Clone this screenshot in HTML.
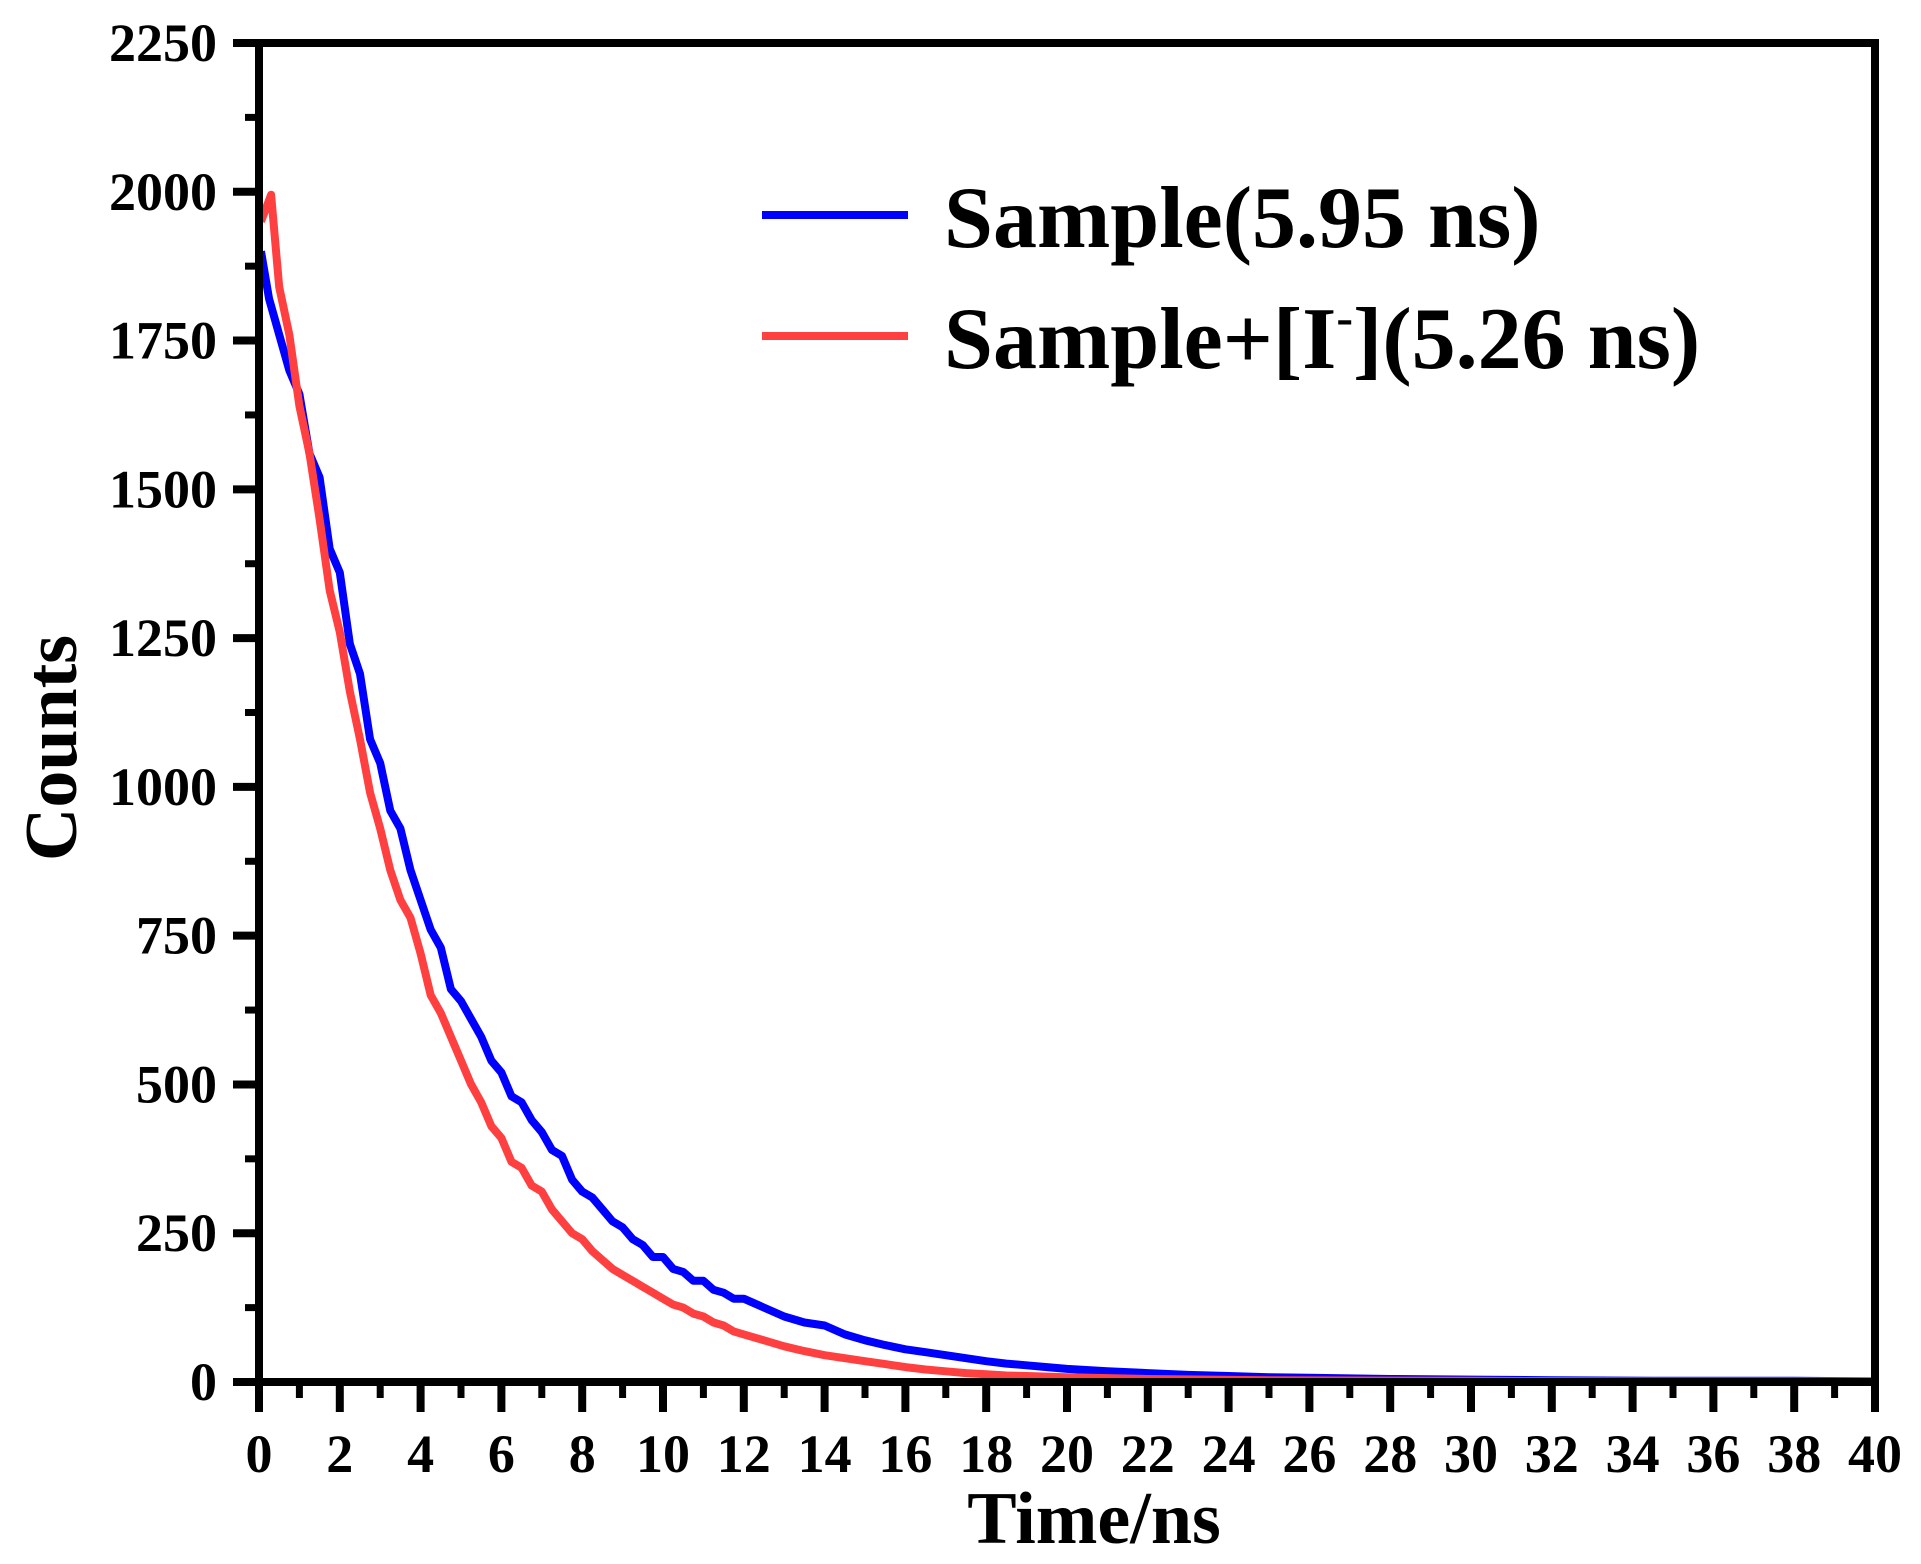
<!DOCTYPE html>
<html><head><meta charset="utf-8"><style>
html,body{margin:0;padding:0;background:#fff;}
svg{display:block;font-family:"Liberation Serif",serif;font-weight:bold;}
</style></head><body>
<svg id="chart" width="1921" height="1564" viewBox="0 0 1921 1564">
<g id="marks"></g>
<g id="axes"></g>
<g>
  <line x1="762" y1="215" x2="908" y2="215" stroke="#0000ff" stroke-width="8"/>
  <text x="944" y="247" font-size="88">Sample(5.95 ns)</text>
  <line x1="762" y1="336" x2="908" y2="336" stroke="#ff4040" stroke-width="8"/>
  <text x="944" y="368" font-size="88">Sample+[I<tspan dy="-34" font-size="50">-</tspan><tspan dy="34">](5.26 ns)</tspan></text>
</g>
<text x="1094" y="1543" font-size="74" text-anchor="middle">Time/ns</text>
<text transform="translate(76,748) rotate(-90)" font-size="74" text-anchor="middle">Counts</text>
</svg>
<script>
const xTicks = [0,2,4,6,8,10,12,14,16,18,20,22,24,26,28,30,32,34,36,38,40];
const yTicks = [0,250,500,750,1000,1250,1500,1750,2000,2250];
const blueT = [0.05,0.25,0.5,0.75,1,1.25,1.5,1.75,2,2.25,2.5,2.75,3,3.25,3.5,3.75,4,4.25,4.5,4.75,5,5.25,5.5,5.75,6,6.25,6.5,6.75,7,7.25,7.5,7.75,8,8.25,8.5,8.75,9,9.25,9.5,9.75,10,10.25,10.5,10.75,11,11.25,11.5,11.75,12,12.5,13,13.5,14,14.5,15,15.5,16,16.5,17,17.5,18,18.5,19,19.5,20,21,22,23,24,25,26,27,28,30,32,35,38,40];
const blueV = [1900,1820,1760,1700,1660,1560,1520,1400,1360,1240,1190,1080,1040,960,930,860,810,760,730,660,640,610,580,540,520,480,470,440,420,390,380,340,320,310,290,270,260,240,230,210,210,190,185,170,170,155,150,140,140,125,110,100,95,80,70,62,55,50,45,40,35,31,28,25,22,18,15,12,10,8,7,6,5,4,3,2,2,1];
const redT = [0.05,0.3,0.5,0.75,1,1.25,1.5,1.75,2,2.25,2.5,2.75,3,3.25,3.5,3.75,4,4.25,4.5,4.75,5,5.25,5.5,5.75,6,6.25,6.5,6.75,7,7.25,7.5,7.75,8,8.25,8.5,8.75,9,9.25,9.5,9.75,10,10.25,10.5,10.75,11,11.25,11.5,11.75,12,12.5,13,13.5,14,14.5,15,15.5,16,16.5,17,17.5,18,18.5,19,19.5,20,22,25,30,35,40];
const redV = [1950,1995,1840,1760,1640,1560,1450,1330,1260,1160,1080,990,930,860,810,780,720,650,620,580,540,500,470,430,410,370,360,330,320,290,270,250,240,220,205,190,180,170,160,150,140,130,125,115,110,100,95,85,80,70,60,52,45,40,35,30,25,21,18,15,13,11,10,9,8,5,3,2,1,1];

const X0=259, X1=1875, Y0=1382, Y1=43;
const sx = t => X0 + (t/40)*(X1-X0);
const sy = v => Y0 - (v/2250)*(Y0-Y1);
const NS="http://www.w3.org/2000/svg";
const marks=document.getElementById('marks'), axes=document.getElementById('axes');
function mk(tag, attrs, parent){const e=document.createElementNS(NS,tag);for(const k in attrs)e.setAttribute(k,attrs[k]);parent.appendChild(e);return e;}

function series(T,V,color,name){
  let d='';
  for(let i=0;i<T.length;i++) d+=(i?'L':'M')+sx(T[i]).toFixed(1)+','+sy(V[i]).toFixed(1);
  const p=mk('path',{d:d,fill:'none',stroke:color,'stroke-width':8,'stroke-linejoin':'round'},marks);
  
  
}
series(blueT,blueV,'#0000ff','series-sample');
series(redT,redV,'#ff4040','series-sample-iodide');

const fr=mk('rect',{x:X0,y:Y1,width:X1-X0,height:Y0-Y1,fill:'none',stroke:'#000','stroke-width':8},axes);



xTicks.forEach((t,i)=>{
  const x=sx(t);
  const l=mk('line',{x1:x,y1:Y0,x2:x,y2:Y0+30,stroke:'#000','stroke-width':8},axes);
  
  
  if(i<xTicks.length-1){
    const xm=sx(t+1);
    const m=mk('line',{x1:xm,y1:Y0,x2:xm,y2:Y0+16,stroke:'#000','stroke-width':7},axes);
    
    
  }
  const tx=mk('text',{x:x,y:1472,'font-size':54,'text-anchor':'middle'},axes);
  tx.textContent=String(t);
  
  
});
yTicks.forEach((v,i)=>{
  const y=sy(v);
  const l=mk('line',{x1:X0-26,y1:y,x2:X0,y2:y,stroke:'#000','stroke-width':8},axes);
  
  
  if(i<yTicks.length-1){
    const ym=sy(v+125);
    const m=mk('line',{x1:X0-14,y1:ym,x2:X0,y2:ym,stroke:'#000','stroke-width':7},axes);
    
    
  }
  const tx=mk('text',{x:217,y:y+18,'font-size':54,'text-anchor':'end'},axes);
  tx.textContent=String(v);
  
  
});
</script>
</body></html>
